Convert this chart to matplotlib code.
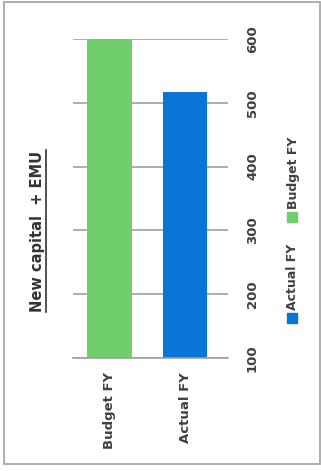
import numpy as np
import matplotlib
matplotlib.use("Agg")
import matplotlib.pyplot as plt
from matplotlib.patches import Rectangle
from matplotlib.lines import Line2D

plt.rcParams["font.family"] = "DejaVu Sans"

# Chart data
categories = ["Budget FY", "Actual FY"]
values = [600, 517]
bar_colors = ["#6fcf6a", "#0a75d6"]
ticks = [100, 200, 300, 400, 500, 600]
title = "New capital  + EMU"

W, H = 321, 471
fig = plt.figure(figsize=(W / 100, H / 100), dpi=100)
fig.patch.set_facecolor("white")

# Page border
fig.add_artist(Rectangle((4 / W, 1 - 464 / H), 316 / W, 462 / H,
                         transform=fig.transFigure, fill=False,
                         edgecolor="#a8a8a8", lw=1.3))

# Bars drawn upright with the value axis on the right; all text turned 90 degrees
ax = fig.add_axes([73 / W, 1 - 358 / H, 155 / W, 319 / H])
x = np.arange(len(categories))
ax.bar(x, values, width=0.58, color=bar_colors, zorder=2)
ax.set_xlim(-0.48, 1.56)
ax.set_ylim(100, 600)
ax.set_yticks(ticks)
ax.yaxis.tick_right()
ax.set_yticklabels([str(t) for t in ticks], rotation=90, va="center",
                   fontsize=9.5, fontweight="bold", color="#404040")
ax.tick_params(axis="y", length=0, pad=13)
ax.set_xticks(x)
ax.set_xticklabels(categories, rotation=90, va="top", ha="center",
                   fontsize=9.5, fontweight="bold", color="#404040")
ax.tick_params(axis="x", length=0, pad=10)
ax.grid(axis="y", color="#a0a0a0", lw=1.2, zorder=1)
for side in ["top", "left", "right"]:
    ax.spines[side].set_visible(False)
ax.spines["bottom"].set_color("#a0a0a0")
ax.spines["bottom"].set_linewidth(1.2)

# Title, rotated and underlined
t = fig.text(38 / W, 1 - 231 / H, title, rotation=90, ha="center", va="center",
             fontsize=10.5, fontweight="bold", color="#333333")
fig.canvas.draw()
bb = t.get_window_extent().transformed(fig.transFigure.inverted())
fig.add_artist(Line2D([bb.x1 + 0.002, bb.x1 + 0.002], [bb.y0, bb.y1],
                      transform=fig.transFigure, color="#333333", lw=1.2))

# Legend entries, rotated
legend = [("Actual FY", bar_colors[1], 323), ("Budget FY", bar_colors[0], 222)]
for label, color, ybot in legend:
    fig.add_artist(Rectangle((287 / W, 1 - ybot / H), 10 / W, 10 / H,
                             transform=fig.transFigure, color=color))
    fig.text(293 / W, 1 - (ybot - 13) / H, label, rotation=90, ha="center",
             va="bottom", fontsize=9, fontweight="bold", color="#404040")

fig.savefig("out.png", dpi=100, facecolor="white")
